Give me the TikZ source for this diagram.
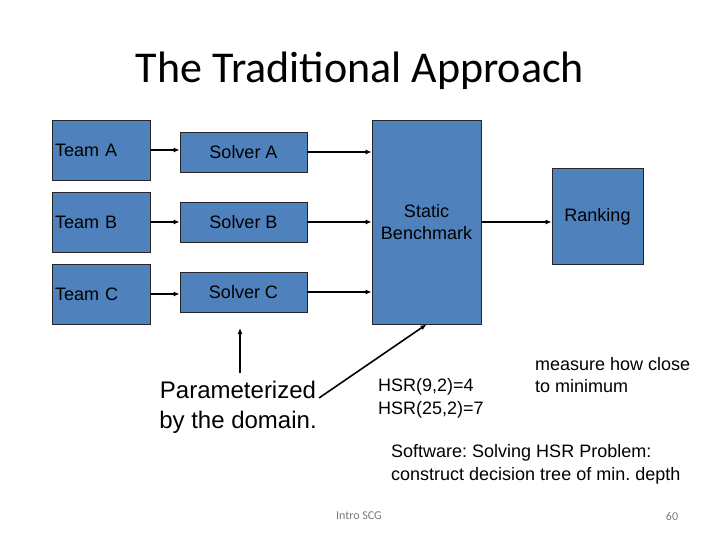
\documentclass[tikz,border=0pt]{standalone}
\usepackage{fontspec}
\setmainfont{Liberation Sans}
\newfontfamily\slidefont{Carlito}
\usetikzlibrary{arrows.meta}
\frenchspacing
\definecolor{boxblue}{RGB}{79,129,189}
\definecolor{footgray}{RGB}{120,120,120}
\tikzset{
  block/.style={rectangle, draw=black!85, fill=boxblue, line width=0.8pt, inner sep=0pt, font=\fontsize{18}{22}\selectfont},
  teambox/.style={block, minimum width=98pt, minimum height=60pt, text width=92pt, align=left},
  solverbox/.style={block, minimum width=127pt, minimum height=40pt},
  benchbox/.style={block, minimum width=109pt, minimum height=204pt, align=center},
  rankbox/.style={block, minimum width=91pt, minimum height=96pt, text depth=2pt},
  note/.style={inner sep=0pt, align=left, font=\fontsize{18}{23}\selectfont},
  flow/.style={line width=1.6pt, -{Latex[length=6pt,width=5pt]}}
}

\begin{document}
\begin{tikzpicture}[x=1pt, y=-1pt]
  \useasboundingbox (0,0) rectangle (720,540);

  \node[font=\slidefont\fontsize{44}{50}\selectfont, inner sep=0pt] (title) at (360,71) {The Traditional Approach};

  \node[teambox] (teamA) at (101,150) {Team A};
  \node[teambox] (teamB) at (101,222) {Team B};
  \node[teambox] (teamC) at (101,294) {Team C};

  \node[solverbox] (solverA) at (243.5,152) {Solver A};
  \node[solverbox] (solverB) at (243.5,222) {Solver B};
  \node[solverbox] (solverC) at (243.5,292) {Solver C};

  \node[benchbox] (bench) at (426.5,222) {Static\\Benchmark};
  \node[rankbox] (rank) at (597.5,216) {Ranking};

  \draw[flow] (teamA.east) -- (teamA.east -| solverA.west);
  \draw[flow] (teamB.east) -- (teamB.east -| solverB.west);
  \draw[flow] (teamC.east) -- (teamC.east -| solverC.west);
  \draw[flow] (solverA.east) -- (solverA.east -| bench.west);
  \draw[flow] (solverB.east) -- (solverB.east -| bench.west);
  \draw[flow] (solverC.east) -- (solverC.east -| bench.west);
  \draw[flow] (bench.east) -- (bench.east -| rank.west);

  % notes below the boxes
  \node[inner sep=0pt, align=center, font=\fontsize{24}{30}\selectfont] (param) at (238,407) {Parameterized\\by the domain.};
  \node[note, anchor=west] (hsr) at (378,398) {HSR(9,2)=4\\HSR(25,2)=7};
  \node[note, anchor=west, font=\fontsize{18}{22}\selectfont] (measure) at (535,375) {measure how close\\to minimum};
  \node[note, anchor=west] (software) at (391,464) {Software: Solving HSR Problem:\\construct decision tree of min. depth};

  \coordinate (uptail) at (240,373);
  \coordinate (uptip) at (240,328);
  \coordinate (diagtail) at (319,398);
  \draw[flow] (uptail) -- (uptip);
  \draw[flow] (diagtail) -- (bench.south);

  \node[font=\slidefont\fontsize{12}{14}\selectfont, text=footgray] (foot) at (359,516) {Intro SCG};
  \node[font=\slidefont\fontsize{12}{14}\selectfont, text=footgray] (page) at (672,516) {60};
\end{tikzpicture}
\end{document}
